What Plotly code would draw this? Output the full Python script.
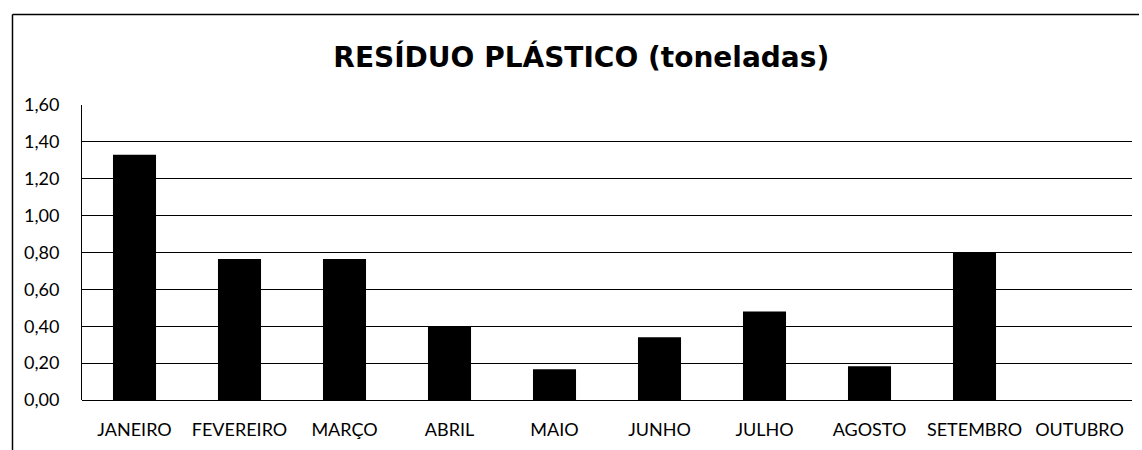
import plotly.graph_objects as go

months = ["JANEIRO", "FEVEREIRO", "MARÇO", "ABRIL", "MAIO", "JUNHO",
          "JULHO", "AGOSTO", "SETEMBRO", "OUTUBRO"]
values = [1.33, 0.765, 0.765, 0.40, 0.167, 0.34, 0.48, 0.183, 0.80, 0.0]
y_ticks = [0.0, 0.2, 0.4, 0.6, 0.8, 1.0, 1.2, 1.4, 1.6]

FONT = "Lato, 'Open Sans', sans-serif"
TITLE_FONT = "'DejaVu Sans', 'Open Sans', sans-serif"

fig = go.Figure()
fig.add_trace(go.Bar(
    x=months, y=values,
    marker=dict(color="black", line=dict(width=0)),
    hoverinfo="skip",
))

fig.update_layout(
    width=1142, height=450,
    margin=dict(l=81.5, r=10, t=105, b=47),
    paper_bgcolor="white", plot_bgcolor="white",
    separators=",.",
    bargap=0.59,
    showlegend=False,
    title=dict(
        text="<b>RESÍDUO PLÁSTICO (toneladas)</b>",
        font=dict(family=TITLE_FONT, size=28, color="black"),
        x=0.509, xanchor="center", xref="container",
        y=0.872, yanchor="middle", yref="container",
    ),
    xaxis=dict(
        showgrid=False, showline=False, zeroline=False,
        ticks="", ticklabelstandoff=17,
        tickfont=dict(family=FONT, size=18, color="black"),
    ),
    yaxis=dict(
        range=[0, 1.6006], tickvals=y_ticks, tickformat=".2f",
        showgrid=True, gridcolor="black", gridwidth=1,
        zeroline=True, zerolinecolor="black", zerolinewidth=1,
        showline=True, linecolor="black", linewidth=1,
        ticks="", ticklabelstandoff=18,
        tickfont=dict(family=FONT, size=18, color="black"),
    ),
    shapes=[
        dict(type="line", xref="paper", yref="paper",
             x0=-0.0662, x1=-0.0662, y0=-0.17, y1=1.3064,
             line=dict(color="black", width=1.5)),
        dict(type="line", xref="paper", yref="paper",
             x0=-0.0662, x1=1.0067, y0=1.3064, y1=1.3064,
             line=dict(color="black", width=1.5)),
    ],
)

fig.write_html("out.html")
